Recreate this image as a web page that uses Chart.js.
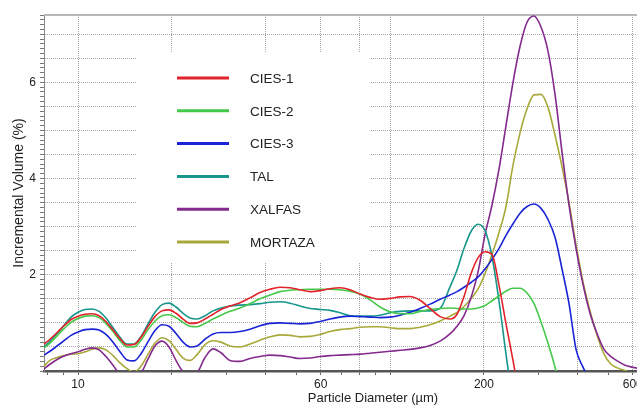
<!DOCTYPE html>
<html><head><meta charset="utf-8">
<script src="https://cdn.jsdelivr.net/npm/chart.js@4.4.0/dist/chart.umd.min.js"></script>
<style>
html,body{margin:0;padding:0;overflow:hidden;background:#fff;width:637px;height:408px}
#wrap{position:absolute;left:0;top:0;width:720px;height:408px}
</style>
</head><body><div id="wrap"><canvas id="c"></canvas></div>
<script>
const diameters = [7.78,8.13,8.57,9.02,9.50,10.0,10.53,11.09,11.68,12.29,12.95,13.63,14.36,15.12,15.92,16.77,17.65,18.59,19.57,20.61,21.71,22.86,24.07,25.53,27.08,28.73,30.70,33.05,35.58,38.31,41.25,44.41,47.82,51.47,55.42,59.66,64.24,69.16,74.46,80.17,86.30,92.89,100,107.7,115.9,124.8,134.4,144.7,155.7,164.0,172.7,181.8,191.4,201.6,212.3,223.6,235.4,247.9,261.1,274.9,289.4,304.8,320.9,338.0,355.9,374.8,394.7,415.6,437.6,460.8,485.3,511.0,538.1,566.6,596.6,632.8];

const cies1 = [0.56,0.66,0.80,0.94,1.07,1.14,1.18,1.19,1.15,1.03,0.85,0.67,0.54,0.55,0.70,0.93,1.13,1.25,1.27,1.20,1.08,0.99,1.00,1.08,1.18,1.28,1.35,1.42,1.52,1.63,1.70,1.74,1.73,1.69,1.65,1.67,1.71,1.73,1.69,1.60,1.53,1.49,1.51,1.54,1.55,1.47,1.30,1.13,1.08,1.18,1.55,2.02,2.35,2.48,2.42,1.78,0.98,0.22,-0.6,null,null,null,null,null,null,null,null,null,null,null,null,null,null,null,null,null];
const cies2 = [0.48,0.58,0.73,0.88,1.01,1.09,1.14,1.15,1.11,0.99,0.82,0.63,0.50,0.50,0.64,0.86,1.04,1.15,1.17,1.11,1.01,0.93,0.92,0.99,1.08,1.16,1.24,1.31,1.40,1.50,1.58,1.65,1.68,1.69,1.70,1.70,1.70,1.69,1.66,1.60,1.48,1.33,1.23,1.19,1.19,1.24,1.28,1.30,1.31,1.30,1.29,1.29,1.31,1.36,1.46,1.56,1.66,1.72,1.72,1.62,1.40,1.02,0.58,0.08,-0.5,null,null,null,null,null,null,null,null,null,null,null];
const cies3 = [0.33,0.41,0.52,0.63,0.74,0.81,0.86,0.87,0.85,0.76,0.60,0.40,0.23,0.21,0.36,0.61,0.84,0.96,0.93,0.78,0.60,0.50,0.52,0.66,0.77,0.80,0.80,0.82,0.87,0.94,0.99,1.00,0.99,0.98,0.99,1.03,1.08,1.12,1.14,1.13,1.12,1.11,1.12,1.16,1.22,1.30,1.39,1.49,1.58,1.65,1.74,1.84,1.95,2.12,2.32,2.55,2.82,3.06,3.28,3.42,3.47,3.38,3.15,2.78,2.12,1.40,0.45,0.08,-0.2,null,null,null,null,null,null,null];
const tal = [0.50,0.62,0.78,0.95,1.12,1.22,1.28,1.29,1.24,1.10,0.90,0.70,0.56,0.56,0.72,0.98,1.22,1.38,1.41,1.33,1.20,1.10,1.08,1.15,1.25,1.31,1.35,1.37,1.38,1.40,1.43,1.44,1.41,1.35,1.30,1.28,1.26,1.21,1.15,1.14,1.14,1.16,1.21,1.24,1.25,1.25,1.25,1.30,1.75,2.10,2.55,2.90,3.05,2.92,2.38,1.45,0.35,-0.7,null,null,null,null,null,null,null,null,null,null,null,null,null,null,null,null,null,null];
const xalfas = [0.04,0.14,0.24,0.31,0.36,0.40,0.45,0.48,0.44,0.30,0.12,-0.08,-0.2,-0.2,-0.05,0.25,0.52,0.62,0.50,0.22,-0.02,-0.15,-0.05,0.28,0.46,0.38,0.22,0.20,0.26,0.30,0.33,0.32,0.29,0.26,0.27,0.30,0.32,0.33,0.34,0.35,0.37,0.39,0.41,0.43,0.45,0.48,0.53,0.62,0.77,0.93,1.15,1.52,2.05,2.83,3.45,4.20,5.10,6.00,6.75,7.25,7.38,7.15,6.65,5.75,4.55,3.45,2.55,1.80,1.20,0.78,0.45,0.30,0.20,0.12,0.08,0.05];
const mortaza = [0.10,0.22,0.28,0.32,0.35,0.36,0.40,0.45,0.48,0.44,0.32,0.17,0.05,-0.02,0.10,0.35,0.58,0.69,0.63,0.45,0.27,0.22,0.34,0.55,0.63,0.60,0.52,0.50,0.56,0.64,0.71,0.75,0.74,0.71,0.72,0.76,0.82,0.86,0.88,0.91,0.92,0.92,0.90,0.88,0.88,0.91,0.96,1.04,1.14,1.22,1.34,1.50,1.70,2.02,2.42,2.88,3.42,4.28,4.95,5.45,5.74,5.75,5.48,4.90,4.25,3.50,2.62,1.85,1.25,0.75,0.35,0.14,0.06,0.01,-0.05,null];

const seriesNames = ['CIES-1','CIES-2','CIES-3','TAL','XALFAS','MORTAZA'];
const seriesValues = [cies1, cies2, cies3, tal, xalfas, mortaza];
const seriesColors = ['#e3232b','#45c94a','#1a24d6','#17968c','#832a8c','#a9a83a'];

const xTickValues = [8,9,10,20,30,40,50,60,70,80,90,100,200,300,400,500,600,700,800,900,1000];
const xGridValues = [10,20,40,60,80,100,200,400,600,800];
const xLabelValues = [10,60,200,600];
const yLabelValues = [2,4,6];
const yTickValues = [];
for (let i = 0; i <= 74; i++) yTickValues.push(i / 10);

const FONT = "'Liberation Sans', Arial, sans-serif";
const TEXT = '#222';

const datasets = seriesNames.map((name, k) => ({
  label: name,
  data: diameters.map((d, i) => ({x: d, y: seriesValues[k][i]})),
  borderColor: seriesColors[k],
  backgroundColor: seriesColors[k],
  borderWidth: 1.6,
  pointRadius: 0,
  cubicInterpolationMode: 'monotone',
  fill: false,
  clip: 0,
  spanGaps: false
}));

const legendPlugin = {
  id: 'boxLegend',
  beforeDatasetsDraw(chart) {
    const {ctx, chartArea} = chart;
    ctx.save();
    ctx.strokeStyle = '#b8b8b8';
    ctx.lineWidth = 2;
    ctx.beginPath();
    ctx.moveTo(chartArea.left, chartArea.top);
    ctx.lineTo(chartArea.right, chartArea.top);
    ctx.stroke();
    const bx = chartArea.left + 92, by = chartArea.top + 38, bw = 235, bh = 209;
    ctx.fillStyle = '#fff';
    ctx.fillRect(bx, by, bw, bh);
    ctx.font = "13.5px " + FONT;
    ctx.textBaseline = 'middle';
    ctx.textAlign = 'left';
    seriesNames.forEach((name, k) => {
      const y = chartArea.top + 63 + k * 32.8;
      ctx.strokeStyle = seriesColors[k];
      ctx.lineWidth = 3;
      ctx.beginPath();
      ctx.moveTo(chartArea.left + 133, y);
      ctx.lineTo(chartArea.left + 185, y);
      ctx.stroke();
      ctx.fillStyle = TEXT;
      ctx.fillText(name, chartArea.left + 206, y + 1);
    });
    ctx.restore();
  }
};

const isHalf = v => Math.abs(v * 2 - Math.round(v * 2)) < 1e-6;

new Chart(document.getElementById('c'), {
  type: 'line',
  data: {datasets},
  plugins: [legendPlugin],
  options: {
    responsive: true,
    maintainAspectRatio: false,
    animation: false,
    layout: {padding: {top: 15, right: 18, bottom: 2, left: 0}},
    plugins: {legend: {display: false}, tooltip: {enabled: false}},
    scales: {
      x: {
        type: 'logarithmic',
        min: 7.78,
        max: 1000,
        afterBuildTicks: s => { s.ticks = xTickValues.map(v => ({value: v})); },
        afterFit: s => { s.height = 35; },
        ticks: {
          autoSkip: false, maxRotation: 0, minRotation: 0, padding: 2,
          color: TEXT, font: {size: 12, family: FONT},
          callback: v => xLabelValues.includes(v) ? String(v) : ''
        },
        grid: {
          color: c => (c.tick && xGridValues.includes(c.tick.value)) ? '#a8a8a8' : 'rgba(0,0,0,0)',
          lineWidth: 1,
          tickColor: '#666',
          tickLength: 4
        },
        border: {color: '#555', width: 2.5, dash: [1, 1]},
        title: {display: true, text: 'Particle Diameter (µm)', color: TEXT, font: {size: 13, family: FONT}, padding: {top: 0, bottom: 0}}
      },
      y: {
        type: 'linear',
        min: 0,
        max: 7.4,
        afterBuildTicks: s => { s.ticks = yTickValues.map(v => ({value: v})); },
        afterFit: s => { s.width = 44; },
        ticks: {
          autoSkip: false, padding: 4,
          color: TEXT, font: {size: 12, family: FONT},
          callback: v => yLabelValues.includes(Math.round(v * 10) / 10) ? String(Math.round(v)) : ''
        },
        grid: {
          color: c => (c.tick && c.tick.value > 0 && isHalf(c.tick.value)) ? '#a8a8a8' : 'rgba(0,0,0,0)',
          lineWidth: 1,
          tickColor: '#777',
          tickLength: 4
        },
        border: {color: '#888', width: 1, dash: [1, 1]},
        title: {display: true, text: 'Incremental Volume (%)', color: TEXT, font: {size: 14, family: FONT}, padding: {top: 10.5, bottom: 0}}
      }
    }
  }
});
</script>
</body></html>
